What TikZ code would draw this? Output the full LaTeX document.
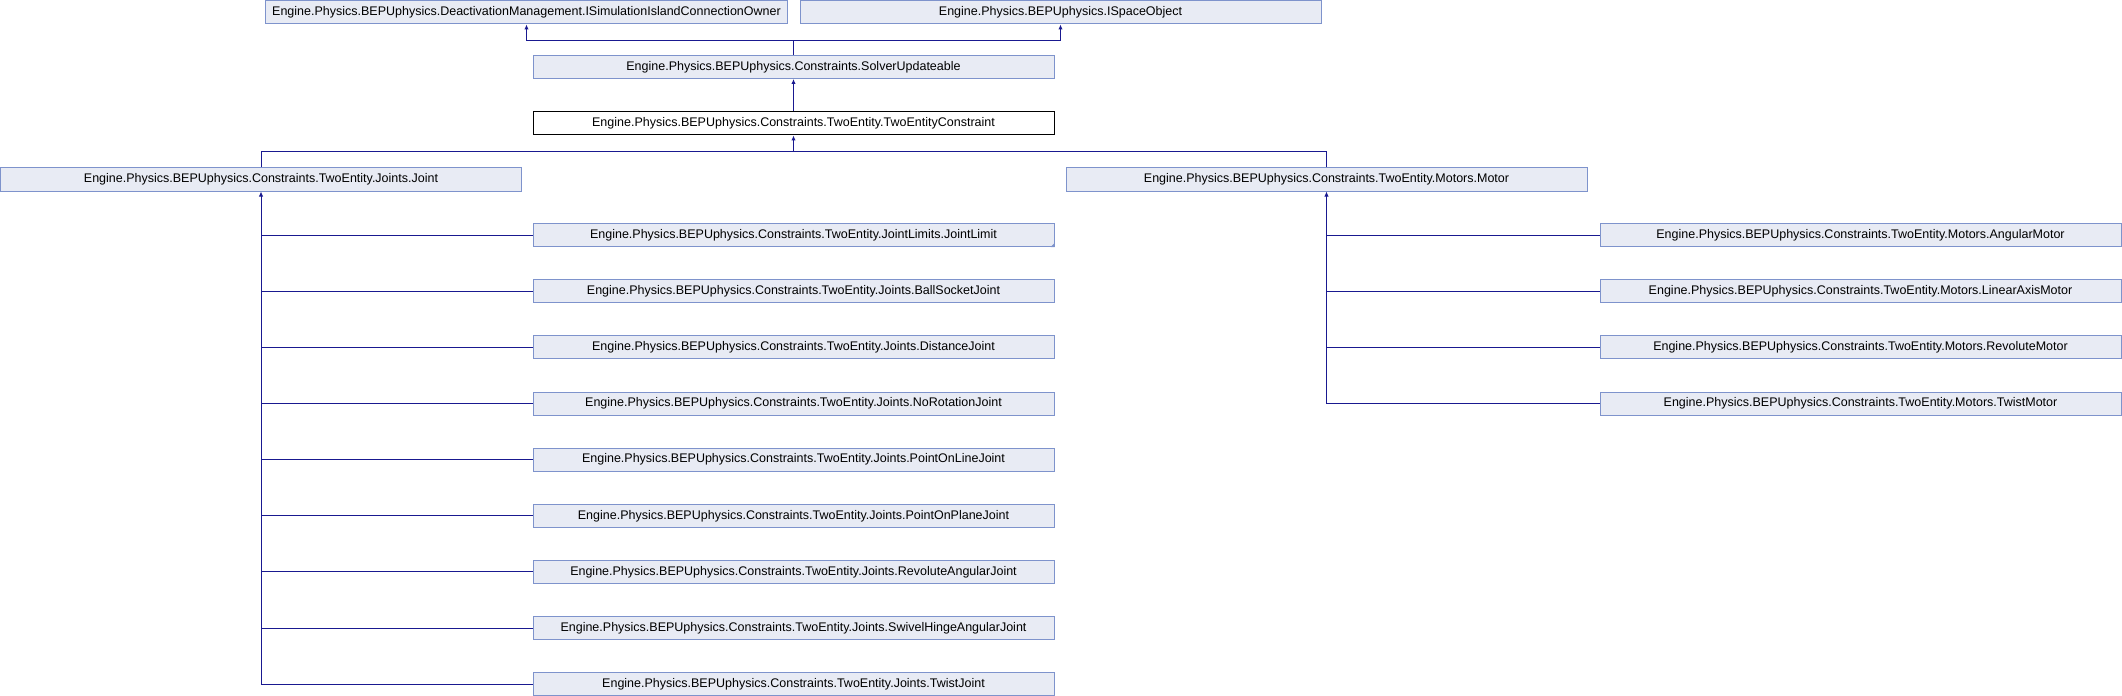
\documentclass[tikz,border=0pt]{standalone}
\usepackage{fontspec}
\setmainfont{Liberation Sans}
\usetikzlibrary{arrows.meta}
\definecolor{boxfill}{HTML}{E8EBF4}
\definecolor{boxline}{HTML}{7E93CC}
\definecolor{edgecol}{HTML}{191990}
\tikzset{
  cls/.style={draw=boxline, fill=boxfill, line width=1bp, rectangle,
    minimum width=521bp, minimum height=23bp, inner sep=0pt,
    font=\fontsize{12.5bp}{14bp}\selectfont},
  clsmain/.style={cls, draw=black, fill=white},
  edge/.style={draw=edgecol, line width=1bp},
  arr/.style={edge, -{Latex[length=5bp,width=4.5bp]}},
}
\begin{document}
\begin{tikzpicture}[x=1bp,y=-1bp]
\useasboundingbox (0,0) rectangle (2122,696);
% top row
\node[cls] (deact) at (526.5,12.5) {Engine.Physics.BEPUphysics.DeactivationManagement.ISimulationIslandConnectionOwner};
\node[cls] (ispace) at (1060.5,12.5) {Engine.Physics.BEPUphysics.ISpaceObject};
\node[cls] (solver) at (793.5,67) {Engine.Physics.BEPUphysics.Constraints.SolverUpdateable};
\node[clsmain] (tec) at (793.5,123.5) {Engine.Physics.BEPUphysics.Constraints.TwoEntity.TwoEntityConstraint};
\node[cls] (joint) at (261,179.5) {Engine.Physics.BEPUphysics.Constraints.TwoEntity.Joints.Joint};
\node[cls] (motor) at (1326.5,179.5) {Engine.Physics.BEPUphysics.Constraints.TwoEntity.Motors.Motor};
% joint children
\node[cls] (j1) at (793.5,235) {Engine.Physics.BEPUphysics.Constraints.TwoEntity.JointLimits.JointLimit};
\node[cls] (j2) at (793.5,291.2) {Engine.Physics.BEPUphysics.Constraints.TwoEntity.Joints.BallSocketJoint};
\node[cls] (j3) at (793.5,347.3) {Engine.Physics.BEPUphysics.Constraints.TwoEntity.Joints.DistanceJoint};
\node[cls] (j4) at (793.5,403.5) {Engine.Physics.BEPUphysics.Constraints.TwoEntity.Joints.NoRotationJoint};
\node[cls] (j5) at (793.5,459.6) {Engine.Physics.BEPUphysics.Constraints.TwoEntity.Joints.PointOnLineJoint};
\node[cls] (j6) at (793.5,515.8) {Engine.Physics.BEPUphysics.Constraints.TwoEntity.Joints.PointOnPlaneJoint};
\node[cls] (j7) at (793.5,571.9) {Engine.Physics.BEPUphysics.Constraints.TwoEntity.Joints.RevoluteAngularJoint};
\node[cls] (j8) at (793.5,628.1) {Engine.Physics.BEPUphysics.Constraints.TwoEntity.Joints.SwivelHingeAngularJoint};
\node[cls] (j9) at (793.5,684.2) {Engine.Physics.BEPUphysics.Constraints.TwoEntity.Joints.TwistJoint};
% motor children
\node[cls] (m1) at (1860.5,235) {Engine.Physics.BEPUphysics.Constraints.TwoEntity.Motors.AngularMotor};
\node[cls] (m2) at (1860.5,291.2) {Engine.Physics.BEPUphysics.Constraints.TwoEntity.Motors.LinearAxisMotor};
\node[cls] (m3) at (1860.5,347.3) {Engine.Physics.BEPUphysics.Constraints.TwoEntity.Motors.RevoluteMotor};
\node[cls] (m4) at (1860.5,403.5) {Engine.Physics.BEPUphysics.Constraints.TwoEntity.Motors.TwistMotor};
% folded corner on JointLimit
\fill[boxline] (j1.south east) -- ++(-4,0) -- ++(4,-4) -- cycle;
% bus coordinates
\coordinate (bustop) at (solver.north |- 0,41);
\coordinate (busmid) at (tec.south |- 0,152);
% edges: solver to its two parents
\draw[edge] (solver.north) -- (bustop);
\draw[arr] (bustop) -| (deact.south);
\draw[arr] (bustop) -| (ispace.south);
\draw[arr] (tec.north) -- (solver.south);
% joint and motor to TwoEntityConstraint
\draw[arr] (busmid) -- (tec.south);
\draw[edge] (joint.north) |- (busmid);
\draw[edge] (motor.north) |- (busmid);
% joint children
\draw[arr] (j9.west) -| (joint.south);
\foreach \c in {j1,j2,j3,j4,j5,j6,j7,j8} {
  \draw[edge] (\c.west) -- (\c.west -| joint.south);
}
% motor children
\draw[arr] (m4.west) -| (motor.south);
\foreach \c in {m1,m2,m3} {
  \draw[edge] (\c.west) -- (\c.west -| motor.south);
}
\end{tikzpicture}
\end{document}
